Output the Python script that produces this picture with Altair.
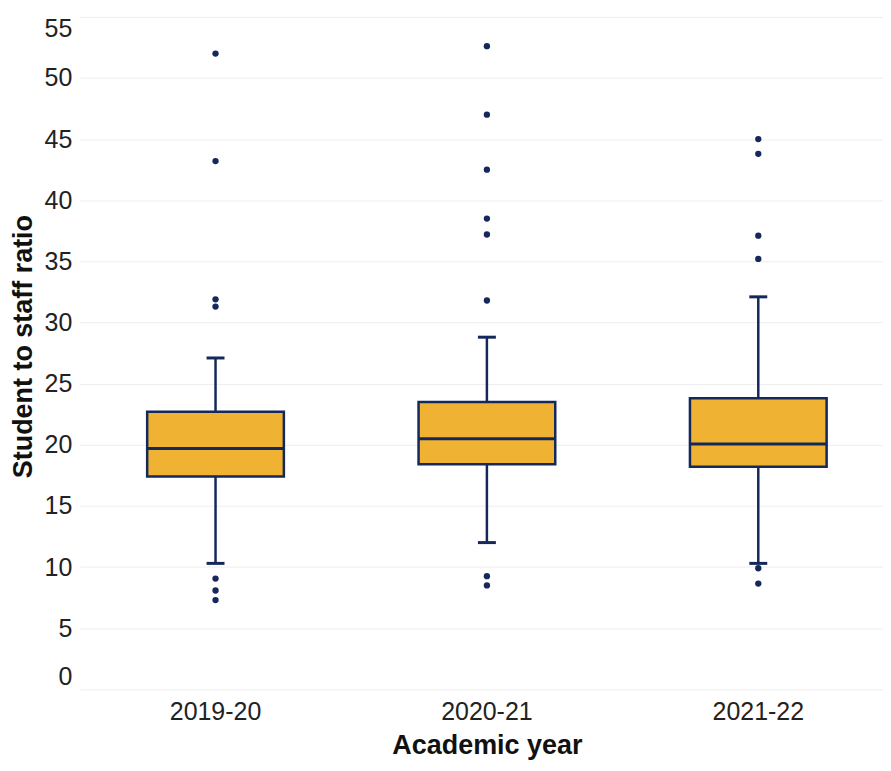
import altair as alt
import pandas as pd

years = ["2019-20", "2020-21", "2021-22"]
q1 = [17.4, 18.4, 18.2]
median = [19.7, 20.5, 20.06]
q3 = [22.7, 23.5, 23.8]
whisk_lo = [10.3, 12.0, 10.3]
whisk_hi = [27.1, 28.8, 32.1]

out_2019 = [52.0, 43.2, 31.9, 31.3, 9.06, 8.08, 7.3]
out_2020 = [52.6, 47.0, 42.5, 38.5, 37.2, 31.8, 9.25, 8.5]
out_2021 = [45.0, 43.8, 37.1, 35.2, 9.9, 8.65]

y_ticks = [0, 5, 10, 15, 20, 25, 30, 35, 40, 45, 50, 55]

FILL = "#F0B232"
NAVY = "#14295A"
FONT = "Liberation Sans"

boxes = pd.DataFrame({"year": years, "q1": q1, "median": median, "q3": q3,
                      "lo": whisk_lo, "hi": whisk_hi})
outs = pd.DataFrame({
    "year": ["2019-20"] * len(out_2019) + ["2020-21"] * len(out_2020) + ["2021-22"] * len(out_2021),
    "value": out_2019 + out_2020 + out_2021,
})

xscale = alt.Scale(domain=years, range=[0, 816], paddingInner=0, paddingOuter=0)
x = alt.X("year:N", scale=xscale, sort=years,
          axis=alt.Axis(title="Academic year", labelAngle=0, ticks=False, domain=False,
                        labelPadding=10, labelFontSize=25, labelColor="#222222",
                        titleFontSize=27, titleFontWeight="bold", titleColor="#111111",
                        titlePadding=8, labelFont=FONT, titleFont=FONT))
yscale = alt.Scale(domain=[0, 55], nice=False, zero=True)
yaxis = alt.Axis(title="Student to staff ratio", values=y_ticks, ticks=False, domain=False,
                 labelPadding=8, labelFontSize=25, labelColor="#222222", labelFlush=True,
                 titleFontSize=27, titleFontWeight="bold", titleColor="#111111",
                 gridColor="#eeeeee", gridWidth=1, labelFont=FONT, titleFont=FONT,
                 titleX=-56, titleY=330, titleAngle=-90, titleAlign="center",
                 titleBaseline="middle")

base = alt.Chart(boxes)

whisker = base.mark_rule(color=NAVY, strokeWidth=2.5).encode(
    x=x, y=alt.Y("lo:Q", scale=yscale, axis=yaxis), y2="hi:Q")

box = base.mark_bar(size=137, fill=FILL, stroke=NAVY, strokeWidth=2.5, opacity=1).encode(
    x=x, y=alt.Y("q1:Q", scale=yscale), y2="q3:Q")

med = base.mark_tick(size=137, thickness=3, color=NAVY, opacity=1, orient="horizontal").encode(
    x=x, y=alt.Y("median:Q", scale=yscale))

cap_lo = base.mark_tick(size=18, thickness=3, color=NAVY, opacity=1, orient="horizontal").encode(
    x=x, y=alt.Y("lo:Q", scale=yscale))
cap_hi = base.mark_tick(size=18, thickness=3, color=NAVY, opacity=1, orient="horizontal").encode(
    x=x, y=alt.Y("hi:Q", scale=yscale))

pts = alt.Chart(outs).mark_circle(size=40, color=NAVY, opacity=1).encode(
    x=x, y=alt.Y("value:Q", scale=yscale))

chart = alt.layer(whisker, box, med, cap_lo, cap_hi, pts).properties(
    width=805, height=674,
    autosize=alt.AutoSizeParams(type="none"),
    padding={"left": 72, "top": 8, "right": 0, "bottom": 80},
).configure_view(stroke=None).configure_axisX(grid=False)

chart.save("out.html", embed_options={"renderer": "svg", "actions": False})
